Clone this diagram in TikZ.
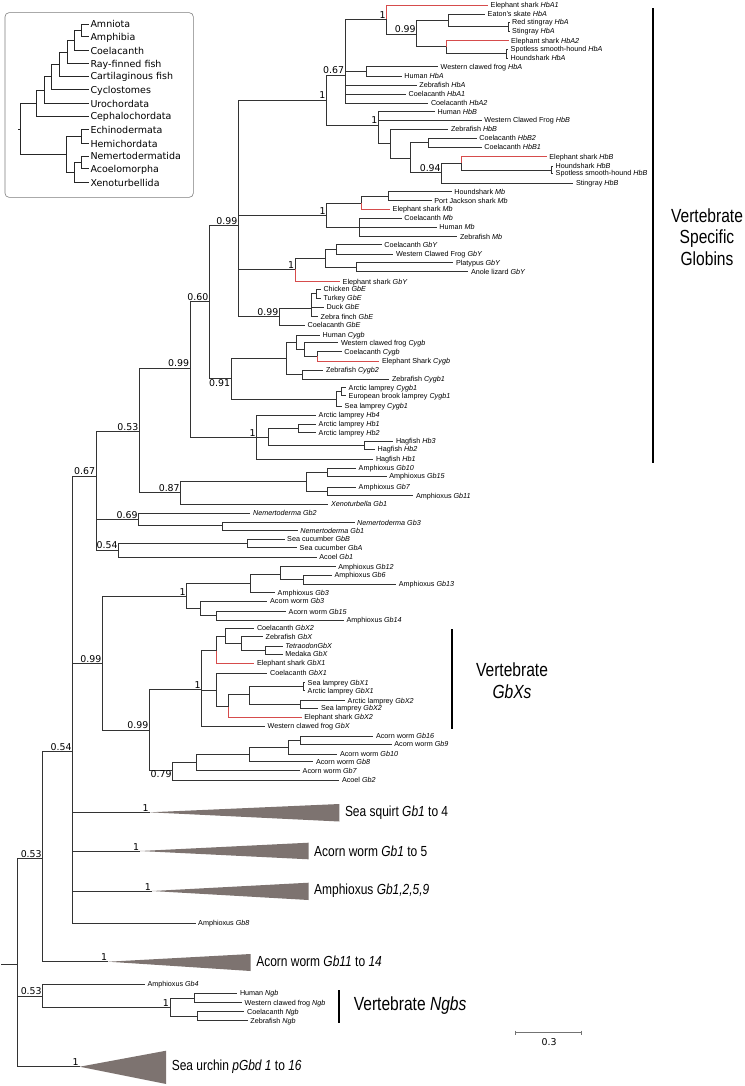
\documentclass[tikz,border=0pt]{standalone}
\usepackage{fontspec}
\setmainfont{Liberation Sans}
\newfontfamily\dejavu{DejaVu Sans}
\newfontfamily\narrowfont{Liberation Sans}[FakeStretch=0.82]
\usepackage{tikz}

\definecolor{redbr}{RGB}{214,76,76}
\definecolor{wedgegray}{RGB}{125,115,112}
\definecolor{boxgray}{RGB}{125,125,125}

% a branch: down (or up) the parent's vertical line, then across to the child
\newcommand{\clade}[4]{%
  \coordinate (#2) at (#3,#4);
  \draw[branch] (#1) |- (#2);}
% a terminal branch with its gene name
\newcommand{\leaf}[6][branch]{%
  \coordinate (#3) at (#4,#5);
  \draw[#1] (#2) |- (#3);
  \node[leaflabel] (#3-t) at (#3) {#6};}
% posterior probabilities, left of the node
\newcommand{\bootval}[2]{\node[support, anchor=south east] (#1-s) at (#1) {#2};}
\newcommand{\bootvalbelow}[2]{\node[support, anchor=north east] (#1-s) at (#1) {#2};}

\begin{document}
\begin{tikzpicture}[x=1pt, y=-1pt,
  branch/.style={draw=black!80, line width=0.7pt},
  redbranch/.style={draw=redbr, line width=0.7pt},
  leaflabel/.style={anchor=base west, inner sep=0pt, xshift=2.5pt, yshift=-2.6pt,
    font=\fontsize{7.2}{8}\selectfont},
  support/.style={inner sep=0.8pt, font=\dejavu\fontsize{9.4}{10}\selectfont},
  wedge/.style={fill=wedgegray, draw=none},
  wedgetext/.style={anchor=west, inner sep=0pt, xshift=5.5pt,
    font=\narrowfont\fontsize{14.6}{16}\selectfont},
  bar/.style={line width=2pt},
  bigtext/.style={align=center, inner sep=0pt, font=\narrowfont\fontsize{19}{21.7}\selectfont},
  scalebar/.style={draw=black!55, line width=0.8pt},
  insetbox/.style={draw=boxgray, line width=0.6pt, rounded corners=4pt}]
\useasboundingbox (0,0) rectangle (744,1086);

% Inset: the species tree of the animals sampled
\begin{scope}[branch/.style={draw=black!85, line width=1pt},
  leaflabel/.style={anchor=base west, inner sep=0pt, xshift=1pt, yshift=-3.4pt,
    font=\dejavu\fontsize{9.5}{11}\selectfont}]
\draw[insetbox] (5,12.7) rectangle (193.3,197.3);
\coordinate (in-stub) at (18.3,129.1);
\clade{in-stub}{in-root}{20.7}{129.1}
\clade{in-root}{in-chord}{36}{103.3}
\leaf{in-chord}{in-ceph}{89.3}{116.3}{Cephalochordata}
\clade{in-chord}{in-olf}{44}{90.3}
\leaf{in-olf}{in-uro}{89.3}{103.7}{Urochordata}
\clade{in-olf}{in-vert}{51.7}{77}
\leaf{in-vert}{in-cyclo}{89.3}{89.7}{Cyclostomes}
\clade{in-vert}{in-gnath}{59.3}{64.25}
\leaf{in-gnath}{in-cart}{89.3}{76.3}{Cartilaginous fish}
\clade{in-gnath}{in-osteo}{67.3}{52.2}
\leaf{in-osteo}{in-ray}{89.3}{63.7}{Ray-finned fish}
\clade{in-osteo}{in-sarc}{74}{40.75}
\leaf{in-sarc}{in-coel}{89.3}{51}{Coelacanth}
\clade{in-sarc}{in-tetra}{81.7}{30.5}
\leaf{in-tetra}{in-amnio}{89.3}{24.3}{Amniota}
\leaf{in-tetra}{in-amphi}{89.3}{36.7}{Amphibia}
\clade{in-root}{in-xamb}{66.7}{154.85}
\clade{in-xamb}{in-amb}{81.7}{137}
\leaf{in-amb}{in-echi}{89.3}{130}{Echinodermata}
\leaf{in-amb}{in-hemi}{89.3}{144}{Hemichordata}
\clade{in-xamb}{in-xac}{74}{172.7}
\clade{in-xac}{in-acoe}{81.7}{162.65}
\leaf{in-acoe}{in-nemer}{89.3}{156.3}{Nemertodermatida}
\leaf{in-acoe}{in-acoelo}{89.3}{169}{Acoelomorpha}
\leaf{in-xac}{in-xeno}{89.3}{182.7}{Xenoturbellida}
\end{scope}

% Backbone of the globin tree
\coordinate (stub) at (1,964);
\clade{stub}{root}{17.6}{964}
\clade{root}{n053a}{42.7}{858.3} \bootval{n053a}{0.53}
\clade{root}{n053b}{42.7}{996} \bootval{n053b}{0.53}
\clade{n053a}{n054b}{72.6}{751.7} \bootval{n054b}{0.54}
\clade{n054b}{n067}{96}{476} \bootval{n067}{0.67}
\clade{n067}{n053c}{139.3}{431.7} \bootval{n053c}{0.53}
\clade{n053c}{n099a}{190}{368} \bootval{n099a}{0.99}
\clade{n099a}{n060}{209.3}{301.7} \bootval{n060}{0.60}
\clade{n060}{n099b}{238.3}{225.7} \bootval{n099b}{0.99}

% Haemoglobins alpha
\clade{n099b}{hb}{326.3}{100} \bootval{hb}{1}
\clade{hb}{hba}{345}{75} \bootval{hba}{0.67}
\clade{hba}{hba1}{386.7}{19.5} \bootval{hba1}{1}
\leaf[redbranch]{hba1}{esHbA1}{488}{5}{Elephant shark \textit{HbA1}}
\clade{hba1}{hba2}{416.7}{34} \bootval{hba2}{0.99}
\clade{hba2}{skate}{448.3}{20}
\leaf{skate}{eatonHbA}{485}{14.3}{Eaton's skate \textit{HbA}}
\clade{skate}{rays}{508.3}{26.7}
\leaf{rays}{rstingHbA}{509.5}{22}{Red stingray \textit{HbA}}
\leaf{rays}{stingHbA}{509.5}{31.3}{Stingray \textit{HbA}}
\clade{hba2}{hba3}{446.7}{46.7}
\leaf[redbranch]{hba3}{esHbA2}{508.5}{40.7}{Elephant shark \textit{HbA2}}
\clade{hba3}{hounds}{506}{53.3}
\leaf{hounds}{smoothHbA}{508}{49.3}{Spotless smooth-hound \textit{HbA}}
\leaf{hounds}{houndHbA}{508}{58.3}{Houndshark \textit{HbA}}
\clade{hba}{tetHbA}{366.7}{71.7}
\leaf{tetHbA}{frogHbA}{438}{66.7}{Western clawed frog \textit{HbA}}
\leaf{tetHbA}{humanHbA}{401.7}{76}{Human \textit{HbA}}
\leaf{hba}{zfHbA}{416.7}{85.3}{Zebrafish \textit{HbA}}
\leaf{hba}{coelHbA1}{406}{94.3}{Coelacanth \textit{HbA1}}
\leaf{hba}{coelHbA2}{428.3}{103.3}{Coelacanth \textit{HbA2}}

% Haemoglobins beta
\clade{hb}{hbb}{378.3}{125} \bootval{hbb}{1}
\leaf{hbb}{humanHbB}{435}{111.7}{Human \textit{HbB}}
\leaf{hbb}{frogHbB}{481.7}{120}{Western Clawed Frog \textit{HbB}}
\clade{hbb}{hbb2}{390}{143.3}
\leaf{hbb2}{zfHbB}{448.3}{129.3}{Zebrafish \textit{HbB}}
\clade{hbb2}{hbb3}{410}{158.3}
\clade{hbb3}{coelHbB}{428.3}{142.7}
\leaf{coelHbB}{coelHbB2}{476.7}{138.3}{Coelacanth \textit{HbB2}}
\leaf{coelHbB}{coelHbB1}{481.7}{147.3}{Coelacanth \textit{HbB1}}
\clade{hbb3}{hbb4}{441.7}{172.7} \bootval{hbb4}{0.94}
\clade{hbb4}{hbb5}{461}{163.3}
\leaf[redbranch]{hbb5}{esHbB}{546.7}{156.7}{Elephant shark \textit{HbB}}
\clade{hbb5}{houndsB}{551.7}{170}
\leaf{houndsB}{houndHbB}{553}{166}{Houndshark \textit{HbB}}
\leaf{houndsB}{smoothHbB}{553}{173.3}{Spotless smooth-hound \textit{HbB}}
\leaf{hbb4}{stingHbB}{573.3}{183.3}{Stingray \textit{HbB}}

% Myoglobins
\clade{n099b}{mb}{326.7}{215} \bootval{mb}{1}
\clade{mb}{mb1}{361.7}{203}
\clade{mb1}{mbsh}{388.3}{196.2}
\leaf{mbsh}{houndMb}{451.7}{191.7}{Houndshark \textit{Mb}}
\leaf{mbsh}{pjMb}{431.7}{200.7}{Port Jackson shark \textit{Mb}}
\leaf[redbranch]{mb1}{esMb}{390}{209.3}{Elephant shark \textit{Mb}}
\clade{mb}{mb2}{359.3}{227.3}
\leaf{mb2}{coelMb}{401.7}{218.3}{Coelacanth \textit{Mb}}
\leaf{mb2}{humanMb}{436.7}{227.3}{Human \textit{Mb}}
\leaf{mb2}{zfMb}{457.3}{236.7}{Zebrafish \textit{Mb}}

% Globin Y
\clade{n099b}{gby}{295}{269.3} \bootval{gby}{1}
\clade{gby}{gby1}{325}{258.3}
\clade{gby1}{gby2}{336}{249.3}
\leaf{gby2}{coelGbY}{381.7}{244.7}{Coelacanth \textit{GbY}}
\leaf{gby2}{frogGbY}{393.3}{254}{Western Clawed Frog \textit{GbY}}
\clade{gby1}{gby3}{356}{267.2}
\leaf{gby3}{platGbY}{453.3}{262.7}{Platypus \textit{GbY}}
\leaf{gby3}{anoleGbY}{468.3}{271.7}{Anole lizard \textit{GbY}}
\leaf[redbranch]{gby}{esGbY}{340}{281.7}{Elephant shark \textit{GbY}}

% Globin E
\clade{n099b}{gbe}{279.3}{316.7} \bootval{gbe}{0.99}
\clade{gbe}{birds}{311}{308.3}
\clade{birds}{galli}{316}{293.7}
\leaf{galli}{chickGbE}{320.8}{289}{Chicken \textit{GbE}}
\leaf{galli}{turkGbE}{320.8}{298.3}{Turkey \textit{GbE}}
\leaf{birds}{duckGbE}{324}{307.3}{Duck \textit{GbE}}
\leaf{birds}{finchGbE}{318}{316.5}{Zebra finch \textit{GbE}}
\leaf{gbe}{coelGbE}{305}{325}{Coelacanth \textit{GbE}}

% Cytoglobins
\clade{n060}{n091}{231}{378.3} \bootvalbelow{n091}{0.91}
\clade{n091}{cygb}{286}{358.3}
\clade{cygb}{cygb1}{296.7}{342.3}
\leaf{cygb1}{humanCygb}{320}{335}{Human \textit{Cygb}}
\clade{cygb1}{cygb2}{304}{349.7}
\leaf{cygb2}{frogCygb}{338.3}{342.7}{Western clawed frog \textit{Cygb}}
\clade{cygb2}{cygb3}{317.3}{356.4}
\leaf{cygb3}{coelCygb}{341.7}{351.7}{Coelacanth \textit{Cygb}}
\leaf[redbranch]{cygb3}{esCygb}{379.3}{361}{Elephant Shark \textit{Cygb}}
\clade{cygb}{zfCygb}{302.7}{374}
\leaf{zfCygb}{zfCygb2}{323.3}{370}{Zebrafish \textit{Cygb2}}
\leaf{zfCygb}{zfCygb1}{389.3}{379.3}{Zebrafish \textit{Cygb1}}
\clade{n091}{lampCygb}{336.7}{399.3}
\clade{lampCygb}{lampCygb2}{341.7}{391.7}
\leaf{lampCygb2}{arcCygb1}{346}{387.7}{Arctic lamprey \textit{Cygb1}}
\leaf{lampCygb2}{ebCygb1}{346}{395.7}{European brook lamprey \textit{Cygb1}}
\leaf{lampCygb}{seaCygb1}{342}{406}{Sea lamprey \textit{Cygb1}}

% Cyclostome haemoglobins
\clade{n099a}{cyc}{256.7}{437.3} \bootval{cyc}{1}
\leaf{cyc}{arcHb4}{316}{415}{Arctic lamprey \textit{Hb4}}
\clade{cyc}{cyc1}{268.3}{437.3}
\clade{cyc1}{lampHb}{298.3}{428.3}
\leaf{lampHb}{arcHb1}{316}{424}{Arctic lamprey \textit{Hb1}}
\leaf{lampHb}{arcHb2}{316}{432.7}{Arctic lamprey \textit{Hb2}}
\clade{cyc1}{hagHb}{364}{445.3}
\leaf{hagHb}{hagHb3}{393.3}{441.3}{Hagfish \textit{Hb3}}
\leaf{hagHb}{hagHb2}{375}{449.3}{Hagfish \textit{Hb2}}
\leaf{cyc}{hagHb1}{373.3}{459.3}{Hagfish \textit{Hb1}}

% Amphioxus and Xenoturbella
\clade{n053c}{n087}{180.7}{492.7} \bootval{n087}{0.87}
\clade{n087}{amph}{306.7}{481.7}
\clade{amph}{amph1}{327.7}{472.2}
\leaf{amph1}{amGb10}{356}{468.3}{Amphioxus \textit{Gb10}}
\leaf{amph1}{amGb15}{386.7}{476}{Amphioxus \textit{Gb15}}
\clade{amph}{amph2}{327.7}{491.5}
\leaf{amph2}{amGb7}{356}{487.3}{Amphioxus \textit{Gb7}}
\leaf{amph2}{amGb11}{413.3}{495.7}{Amphioxus \textit{Gb11}}
\leaf{n087}{xenoGb1}{328.3}{504}{\textit{Xenoturbella Gb1}}

% Nemertoderma
\clade{n067}{n069}{138.5}{519.5} \bootval{n069}{0.69}
\leaf{n069}{nemGb2}{250.4}{513.3}{\textit{Nemertoderma Gb2}}
\clade{n069}{nem}{222.7}{525.7}
\leaf{nem}{nemGb3}{354.5}{522.7}{\textit{Nemertoderma Gb3}}
\leaf{nem}{nemGb1}{297.7}{530.7}{\textit{Nemertoderma Gb1}}

% Sea cucumber and acoel
\clade{n067}{n054c}{118.5}{550} \bootval{n054c}{0.54}
\clade{n054c}{cucu}{247.7}{543.3}
\leaf{cucu}{cucuGbB}{284.5}{539}{Sea cucumber \textit{GbB}}
\leaf{cucu}{cucuGbA}{297}{547.7}{Sea cucumber \textit{GbA}}
\leaf{n054c}{acoelGb1}{316.7}{557.3}{Acoel \textit{Gb1}}

% Amphioxus and acorn worm
\clade{n054b}{n099c}{102.4}{663.3} \bootval{n099c}{0.99}
\clade{n099c}{amac}{186.7}{596.7} \bootval{amac}{1}
\clade{amac}{am1}{250.4}{583.3}
\clade{am1}{am2}{280.7}{574}
\leaf{am2}{amGb12}{335.6}{566.7}{Amphioxus \textit{Gb12}}
\clade{am2}{am3}{303.4}{579.5}
\leaf{am3}{amGb6}{331.8}{575}{Amphioxus \textit{Gb6}}
\leaf{am3}{amGb13}{396.2}{584}{Amphioxus \textit{Gb13}}
\leaf{am1}{amGb3}{275}{592.7}{Amphioxus \textit{Gb3}}
\clade{amac}{ac1}{200.6}{608.3}
\leaf{ac1}{awGb3}{267.4}{601}{Acorn worm \textit{Gb3}}
\clade{ac1}{ac2}{216}{615.8}
\leaf{ac2}{awGb15}{286}{611.7}{Acorn worm \textit{Gb15}}
\leaf{ac2}{amGb14}{343.8}{620}{Amphioxus \textit{Gb14}}

% Vertebrate GbX
\clade{n099c}{n099d}{149.4}{730} \bootval{n099d}{0.99}
\clade{n099d}{gbx}{201.7}{689.3} \bootval{gbx}{1}
\clade{gbx}{gbx1}{216}{650.7}
\clade{gbx1}{tel1}{225}{636}
\leaf{tel1}{coelGbX2}{254.3}{628.3}{Coelacanth \textit{GbX2}}
\clade{tel1}{tel2}{241.2}{643.3}
\leaf{tel2}{zfGbX}{263}{636.7}{Zebrafish \textit{GbX}}
\clade{tel2}{tel3}{265.2}{650}
\leaf{tel3}{tetGbX}{282.7}{646}{\textit{TetraodonGbX}}
\leaf{tel3}{medGbX}{282.7}{654}{Medaka \textit{GbX}}
\leaf[redbranch]{gbx1}{esGbX1}{254.3}{663.3}{Elephant shark \textit{GbX1}}
\clade{gbx}{gbx2}{216}{690}
\leaf{gbx2}{coelGbX1}{267.4}{673.3}{Coelacanth \textit{GbX1}}
\clade{gbx2}{gbx3}{228.3}{706.7}
\clade{gbx3}{lam1}{249.3}{694.5}
\clade{lam1}{lam2}{303.3}{686.7}
\leaf{lam2}{seaGbX1}{305}{682.7}{Sea lamprey \textit{GbX1}}
\leaf{lam2}{arcGbX1}{305}{690.7}{Arctic lamprey \textit{GbX1}}
\clade{lam1}{lam3}{300}{704.5}
\leaf{lam3}{arcGbX2}{345}{700.7}{Arctic lamprey \textit{GbX2}}
\leaf{lam3}{seaGbX2}{318.3}{708.3}{Sea lamprey \textit{GbX2}}
\leaf[redbranch]{gbx3}{esGbX2}{301.7}{717.3}{Elephant shark \textit{GbX2}}
\leaf{gbx}{frogGbX}{265}{726}{Western clawed frog \textit{GbX}}

% Acorn worm and acoel
\clade{n099d}{n079}{172.5}{770} \bootvalbelow{n079}{0.79}
\clade{n079}{aw1}{196.7}{762.2}
\clade{aw1}{aw2}{249.3}{753.9}
\clade{aw2}{aw3}{288.3}{747}
\clade{aw3}{aw4}{300}{740}
\leaf{aw4}{awGb16}{373.3}{736}{Acorn worm \textit{Gb16}}
\leaf{aw4}{awGb9}{391.7}{744}{Acorn worm \textit{Gb9}}
\leaf{aw3}{awGb10}{337.3}{754}{Acorn worm \textit{Gb10}}
\leaf{aw2}{awGb8}{313.3}{761.7}{Acorn worm \textit{Gb8}}
\leaf{aw1}{awGb7}{300}{770.5}{Acorn worm \textit{Gb7}}
\leaf{n079}{acoelGb2}{339.3}{780}{Acoel \textit{Gb2}}

% Collapsed clades, drawn as wedges
\foreach \pa/\nm/\ax/\ay/\rx/\yt/\yb/\txt in {
    n054b/squirt/149.5/812.3/339.3/804/821.5/{Sea squirt \textit{Gb1} to 4},
    n054b/acornA/140/851/308.5/842.7/859.3/{Acorn worm \textit{Gb1} to 5},
    n054b/amphA/151.9/891/308.5/882.7/900/{Amphioxus \textit{Gb1,2,5,9}},
    n053a/acornB/108.2/961.7/250.6/954/971/{Acorn worm \textit{Gb11} to \textit{14}},
    root/urchin/79.7/1066.7/166.1/1050.7/1084/{Sea urchin \textit{pGbd 1} to \textit{16}}} {
  \clade{\pa}{\nm}{\ax}{\ay}
  \bootval{\nm}{1}
  \fill[wedge] (\nm) -- (\rx,\yt) -- (\rx,\yb) -- cycle;
  \node[wedgetext] (\nm-t) at (\rx,\ay) {\txt};
}
\leaf{n054b}{amGb8}{195.5}{923.3}{Amphioxus \textit{Gb8}}

% Neuroglobins
\leaf{n053b}{amGb4}{144.8}{984.3}{Amphioxus \textit{Gb4}}
\clade{n053b}{ngb}{169.9}{1007.3} \bootval{ngb}{1}
\clade{ngb}{ngb1}{194.6}{998}
\leaf{ngb1}{humanNgb}{237.3}{993.3}{Human \textit{Ngb}}
\leaf{ngb1}{frogNgb}{242}{1002.7}{Western clawed frog \textit{Ngb}}
\clade{ngb}{ngb2}{197}{1016.2}
\leaf{ngb2}{coelNgb}{244.4}{1011.7}{Coelacanth \textit{Ngb}}
\leaf{ngb2}{zfNgb}{247.7}{1020.7}{Zebrafish \textit{Ngb}}

% Group bars and their names
\coordinate (vsg-top) at (653.3,8.3);
\coordinate (vsg-bot) at (653.3,463);
\draw[bar] (vsg-top) -- (vsg-bot);
\node[bigtext] (vsg-t) at (707,237) {Vertebrate\\Specific\\Globins};
\coordinate (gbx-top) at (451.7,629.3);
\coordinate (gbx-bot) at (451.7,729.3);
\draw[bar] (gbx-top) -- (gbx-bot);
\node[bigtext] (gbx-t) at (512,681) {Vertebrate\\\textit{GbXs}};
\coordinate (ngb-top) at (339.3,990);
\coordinate (ngb-bot) at (339.3,1023.3);
\draw[bar] (ngb-top) -- (ngb-bot);
\node[bigtext, anchor=west] (ngb-t) at (353.6,1006) {Vertebrate \textit{Ngbs}};

% Scale bar
\coordinate (sb-l) at (515,1032.7);
\coordinate (sb-r) at (581.4,1032.7);
\draw[scalebar] (sb-l) -- (sb-r);
\draw[scalebar] ([yshift=2.2pt]sb-l) -- ([yshift=-2.2pt]sb-l);
\draw[scalebar] ([yshift=2.2pt]sb-r) -- ([yshift=-2.2pt]sb-r);
\node[support] (sb-t) at (549,1042.5) {0.3};
\end{tikzpicture}
\end{document}
